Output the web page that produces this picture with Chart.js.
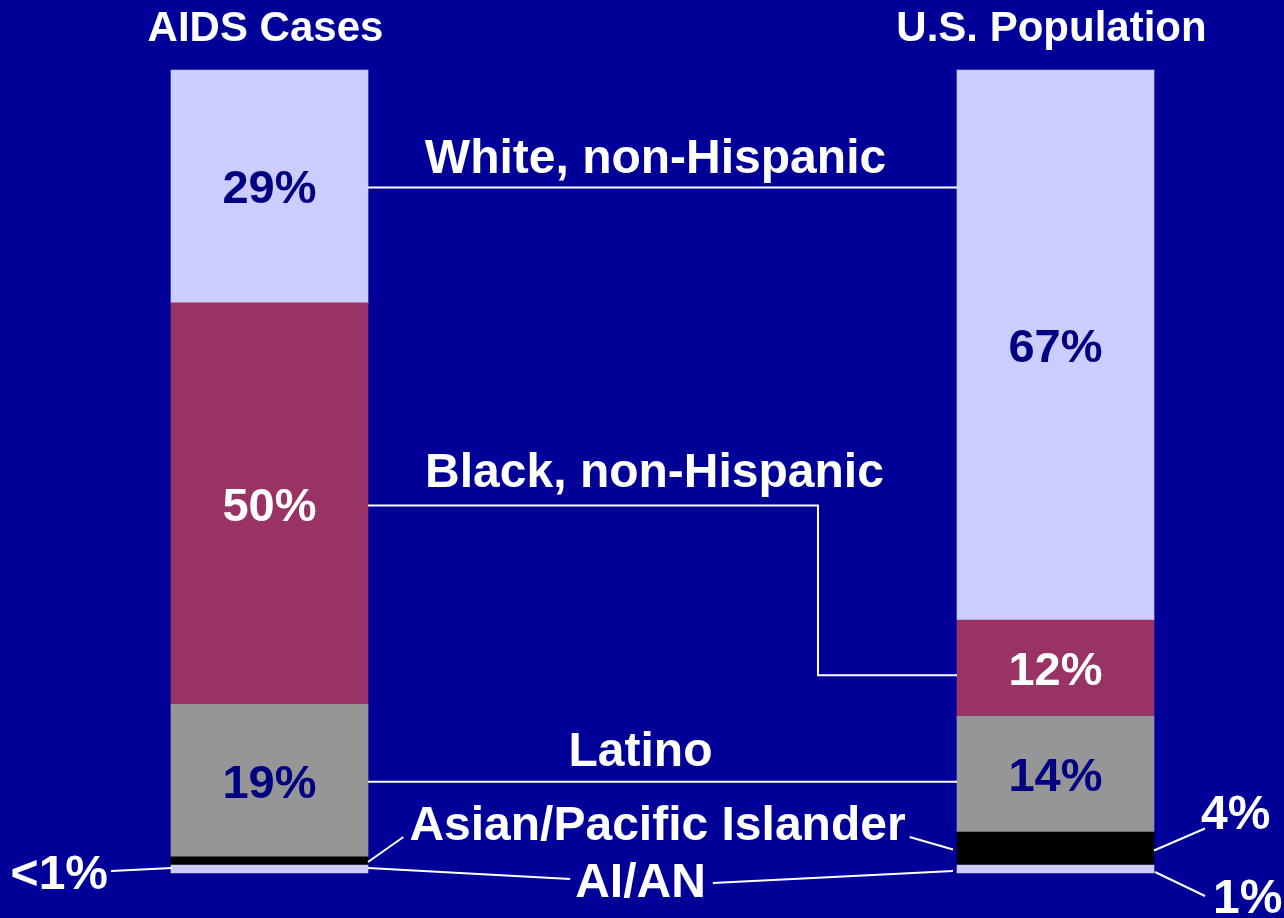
<!DOCTYPE html>
<html>
<head>
<meta charset="utf-8">
<script src="https://cdn.jsdelivr.net/npm/chart.js@4"></script>
<style>
    html, body { margin: 0; padding: 0; background: #000099; }
    #wrap { width: 1284px; height: 918px; }
</style>
</head>
<body>
<div id="wrap"><canvas id="raceChart" width="1284" height="918"></canvas></div>
<script>
// Data
const categories = ['AIDS Cases', 'U.S. Population'];
const groups = ['White, non-Hispanic', 'Black, non-Hispanic', 'Latino', 'Asian/Pacific Islander', 'AI/AN'];
const aidsCases = [29, 50, 19, 1, 1];
const usPopulation = [68.5, 12, 14.4, 4.1, 1];
const aidsLabels = ['29%', '50%', '19%', '<1%', '<1%'];
const populationLabels = ['67%', '12%', '14%', '4%', '1%'];

const segColors = ['#CCCCFF', '#993366', '#969696', '#000000', '#CCCCFF'];
const segTextColors = ['#000080', '#FFFFFF', '#000080', '#FFFFFF', '#FFFFFF'];

const FONT = '"Liberation Sans", Arial, sans-serif';

// stacked bars go bottom-up, so push groups in reverse
const datasets = groups.map(function(g, i) {
    return {
        label: g,
        data: [aidsCases[i], usPopulation[i]],
        backgroundColor: segColors[i],
        borderWidth: 0,
        barThickness: 197,
        clip: false
    };
}).reverse();

function seg(chart, i, col) {
    const el = chart.getDatasetMeta(groups.length - 1 - i).data[col];
    return {
        x: el.x,
        left: el.x - el.width / 2,
        right: el.x + el.width / 2,
        top: el.y,
        bottom: el.base,
        mid: (el.y + el.base) / 2
    };
}

function line(ctx, pts) {
    ctx.beginPath();
    ctx.moveTo(pts[0][0], pts[0][1]);
    for (let k = 1; k < pts.length; k++) ctx.lineTo(pts[k][0], pts[k][1]);
    ctx.stroke();
}

const annotations = {
    id: 'annotations',
    afterDatasetsDraw(chart) {
        const ctx = chart.ctx;
        const area = chart.chartArea;
        ctx.save();

        // column headers
        ctx.fillStyle = '#FFFFFF';
        ctx.font = 'bold 42px ' + FONT;
        ctx.textAlign = 'center';
        ctx.textBaseline = 'alphabetic';
        categories.forEach(function(c, col) {
            const s = seg(chart, 0, col);
            ctx.fillText(c, s.x - 4, 41);
        });

        // percentages inside the big segments
        ctx.font = 'bold 47px ' + FONT;
        for (let i = 0; i < 3; i++) {
            [aidsLabels, populationLabels].forEach(function(labels, col) {
                const s = seg(chart, i, col);
                ctx.fillStyle = segTextColors[i];
                ctx.fillText(labels[i], s.x, s.mid + 17);
            });
        }

        // connectors
        ctx.strokeStyle = '#FFFFFF';
        ctx.lineWidth = 2;
        const L = [0, 1, 2, 3, 4].map(function(i) { return seg(chart, i, 0); });
        const R = [0, 1, 2, 3, 4].map(function(i) { return seg(chart, i, 1); });
        const x0 = L[0].right, x1 = R[0].left;
        const cx = (x0 + x1) / 2;

        // White
        line(ctx, [[x0, L[0].mid + 1], [x1, L[0].mid + 1]]);
        // Black (elbow)
        const elbowX = x0 + (x1 - x0) * 0.764;
        line(ctx, [[x0, L[1].mid + 2], [elbowX, L[1].mid + 2], [elbowX, R[1].mid + 7], [x1, R[1].mid + 7]]);
        // Latino
        line(ctx, [[x0, L[2].mid + 1], [x1, L[2].mid + 1]]);

        ctx.fillStyle = '#FFFFFF';
        ctx.font = 'bold 48px ' + FONT;
        ctx.textAlign = 'center';
        ctx.fillText(groups[0], cx - 7, L[0].mid - 13);
        ctx.fillText(groups[1], cx - 8, L[1].mid - 17);
        ctx.fillText(groups[2], cx - 22, L[2].mid - 15);

        // Asian/Pacific Islander
        const apiY = area.bottom - 33;
        const apiX = cx - 5;
        const apiW = ctx.measureText(groups[3]).width;
        ctx.fillText(groups[3], apiX, apiY);
        line(ctx, [[x0, L[3].mid + 1], [apiX - apiW / 2 - 6, apiY - 3]]);
        line(ctx, [[apiX + apiW / 2 + 4, apiY - 3], [x1 - 4, R[3].mid + 1]]);

        // AI/AN
        const aiY = area.bottom + 24;
        const aiX = cx - 22;
        const aiW = ctx.measureText(groups[4]).width;
        ctx.fillText(groups[4], aiX, aiY);
        line(ctx, [[x0, L[4].mid - 1], [aiX - aiW / 2 - 5, aiY - 18]]);
        line(ctx, [[aiX + aiW / 2 + 7, aiY - 14], [x1 - 4, R[4].mid + 2]]);

        // small outside labels
        ctx.textAlign = 'right';
        ctx.fillText(aidsLabels[4], L[4].left - 63, area.bottom + 16);
        line(ctx, [[L[4].left - 60, area.bottom - 2], [L[4].left + 1, L[4].mid - 1]]);

        ctx.textAlign = 'left';
        const rr = R[3].right;
        ctx.fillText(populationLabels[3], rr + 47, R[3].mid - 20);
        line(ctx, [[rr, R[3].mid + 2], [rr + 51, R[3].mid - 20]]);
        ctx.fillText(populationLabels[4], rr + 59, area.bottom + 40);
        line(ctx, [[rr + 1, R[4].mid + 3], [rr + 51, area.bottom + 23]]);

        ctx.restore();
    }
};

new Chart(document.getElementById('raceChart').getContext('2d'), {
    type: 'bar',
    data: {
        labels: categories,
        datasets: datasets
    },
    options: {
        responsive: false,
        animation: false,
        layout: {
            padding: { top: 70, bottom: 45, left: 269.5, right: 228.5 }
        },
        plugins: {
            legend: { display: false },
            tooltip: { enabled: false }
        },
        scales: {
            x: {
                stacked: true,
                display: false,
                offset: false,
                grid: { offset: false }
            },
            y: {
                stacked: true,
                display: false,
                min: 0,
                max: 100
            }
        }
    },
    plugins: [annotations]
});
</script>
</body>
</html>
